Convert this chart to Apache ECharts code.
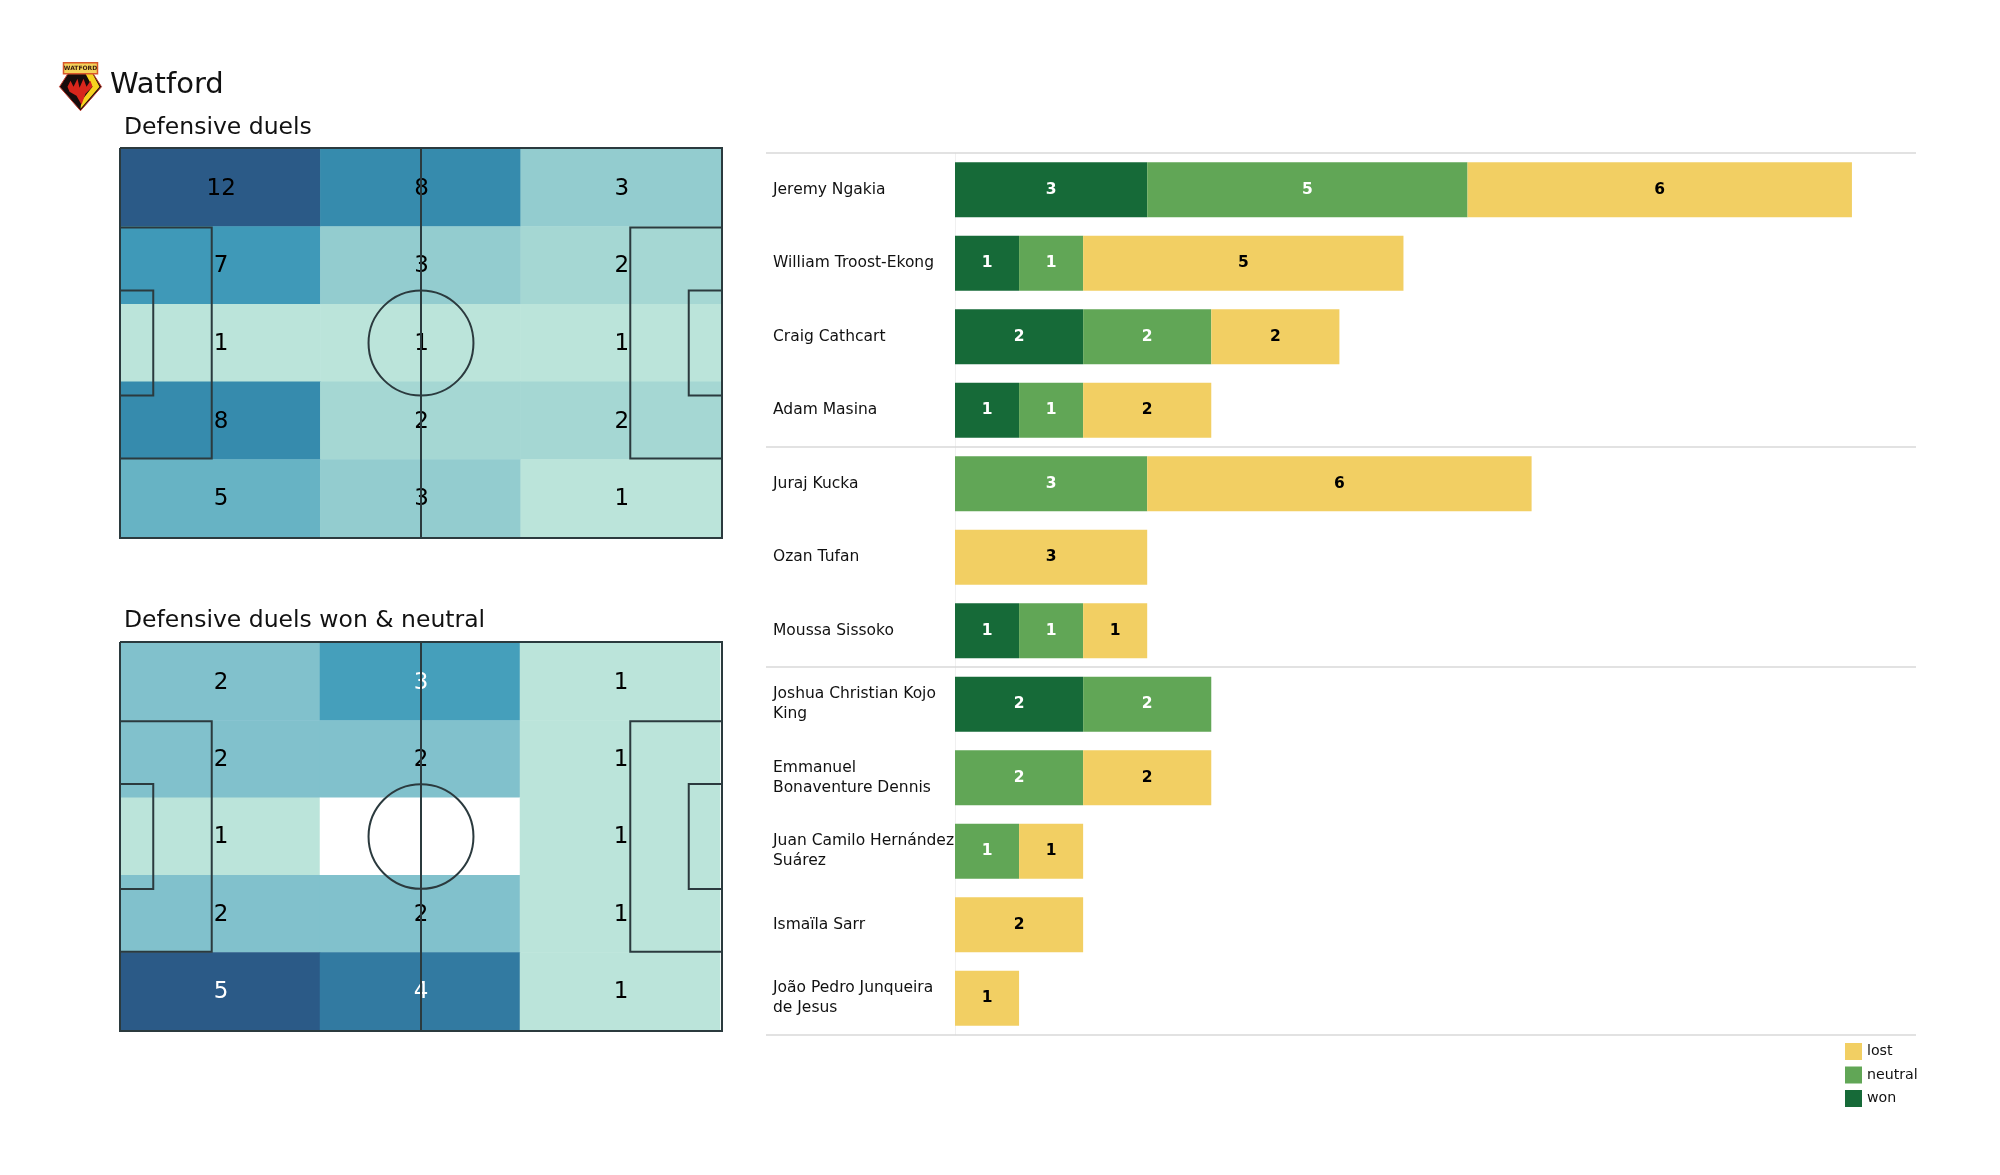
<!DOCTYPE html>
<html><head><meta charset="utf-8">
<script src="https://cdn.jsdelivr.net/npm/echarts@6/dist/echarts.min.js"></script>
<style>html,body{margin:0;padding:0;background:#fff}#c{width:2000px;height:1175px}</style>
</head><body><div id="c"></div>
<script>
const players = ['Jeremy Ngakia','William Troost-Ekong','Craig Cathcart','Adam Masina','Juraj Kucka','Ozan Tufan','Moussa Sissoko','Joshua Christian Kojo\nKing','Emmanuel\nBonaventure Dennis','Juan Camilo Hernández\nSuárez','Ismaïla Sarr','João Pedro Junqueira\nde Jesus'];
const won     = [3,1,2,1,0,0,1,2,0,0,0,0];
const neutral = [5,1,2,1,3,0,1,2,2,1,0,0];
const lost    = [6,5,2,2,6,3,1,0,2,1,2,1];
const groupBreaks = [0,4,7,12];

const zoneCols = ['c1','c2','c3'];
const zoneRows = ['r1','r2','r3','r4','r5'];
const duels = [[12,8,3],[7,3,2],[1,1,1],[8,2,2],[5,3,1]];
const duelsWon = [[2,3,1],[2,2,1],[1,0,1],[2,2,1],[5,4,1]];
const duelColors = {1:'#bbe4da',2:'#a5d7d3',3:'#93cccf',5:'#67b3c4',7:'#3f99b8',8:'#368bad',12:'#2b5a87'};
const wonColors = {0:'#ffffff',1:'#bbe4da',2:'#81c1cc',3:'#459fbb',4:'#327aa1',5:'#2b5a87'};
const wonWhiteFrom = 3;

const pitchW = 105, pitchH = 68;
const pitchPolys = [
  [[0,0],[105,0],[105,68],[0,68],[0,0]],
  [[52.5,0],[52.5,68]],
  [[0,13.84],[16,13.84],[16,54.16],[0,54.16]],
  [[105,13.84],[89,13.84],[89,54.16],[105,54.16]],
  [[0,24.84],[5.8,24.84],[5.8,43.16],[0,43.16]],
  [[105,24.84],[99.2,24.84],[99.2,43.16],[105,43.16]]
];
const circle = {x:52.5,y:34,r:9.15};

const DV = 'DejaVu Sans';
const colW='#166a38', colN='#61a656', colL='#f2cf63';
const heatBoxes = [{left:120,top:149,width:601,height:388},{left:120,top:643,width:600,height:387}];
const lineBoxes = [{left:120,top:148,width:602,height:390},{left:120,top:642,width:602,height:389}];

function flat(m, white){
  const out=[];
  m.forEach((row,r)=>row.forEach((v,c)=>{
    out.push({value:[c,r,v],label:{color:(white!==undefined&&v>=white)?'#fff':'#000'}});
  }));
  return out;
}
function pieces(map){return Object.keys(map).map(k=>({value:+k,color:map[k]}));}
function barSeries(name,vals,color,txt){
  return {name,type:'bar',stack:'d',xAxisIndex:0,yAxisIndex:0,barWidth:55,z:3,
    data:vals.map(v=>v===0?null:v),itemStyle:{color},
    label:{show:true,position:'inside',color:txt,fontFamily:DV,fontWeight:'bold',fontSize:15.5}};
}
function pitchSeries(i){
  const ax=2+i;
  return {type:'custom',xAxisIndex:ax,yAxisIndex:ax,silent:true,z:6,clip:false,
    data:pitchPolys.map((p,k)=>[k]).concat([[-1]]),
    renderItem(params,api){
      const k=api.value(0);
      const st={stroke:'#2b3a3e',lineWidth:2,fill:null};
      if(k<0){
        const c=api.coord([circle.x,circle.y]);
        const e=api.coord([circle.x+circle.r,circle.y+circle.r]);
        return {type:'ellipse',shape:{cx:c[0],cy:c[1],rx:e[0]-c[0],ry:e[1]-c[1]},style:st};
      }
      return {type:'polyline',shape:{points:pitchPolys[k].map(q=>api.coord(q))},style:st};
    }};
}
function heatSeries(i,m,white){
  const ax=4+i;
  return {type:'heatmap',xAxisIndex:ax,yAxisIndex:ax,data:flat(m,white),z:2,
    label:{show:true,fontFamily:DV,fontSize:23,offset:[1,1],formatter:p=>(p.value[2]===0?'':p.value[2])},itemStyle:{borderWidth:0}};
}
const hidden={show:false};
const grids=[
  {left:955,top:153,width:961,height:882},
  {left:766,top:152.5,width:1150,height:882},
  lineBoxes[0],lineBoxes[1],heatBoxes[0],heatBoxes[1]
];
const xAxes=[
  {type:'value',gridIndex:0,min:0,max:15,show:false},
  {type:'value',gridIndex:1,min:0,max:1,show:false},
  {type:'value',gridIndex:2,min:0,max:pitchW,show:false},
  {type:'value',gridIndex:3,min:0,max:pitchW,show:false},
  {type:'category',gridIndex:4,data:zoneCols,show:false},
  {type:'category',gridIndex:5,data:zoneCols,show:false}
];
const yAxes=[
  {type:'category',gridIndex:0,data:players,inverse:true,
    axisLine:{show:true,lineStyle:{color:'#f0f0f0',width:1}},axisTick:hidden,
    axisLabel:{align:'left',margin:182,color:'#111',fontFamily:DV,fontSize:15.5,lineHeight:20,interval:0}},
  {type:'value',gridIndex:1,min:0,max:players.length,inverse:true,show:false},
  {type:'value',gridIndex:2,min:0,max:pitchH,inverse:true,show:false},
  {type:'value',gridIndex:3,min:0,max:pitchH,inverse:true,show:false},
  {type:'category',gridIndex:4,data:zoneRows,inverse:true,show:false},
  {type:'category',gridIndex:5,data:zoneRows,inverse:true,show:false}
];
const titleStyle=s=>({fontFamily:DV,fontWeight:'normal',fontSize:s,color:'#111'});
const option={
  animation:false,backgroundColor:'#fff',
  title:[
    {text:'Watford',left:110,top:71,padding:0,textStyle:titleStyle(29)},
    {text:'Defensive duels',left:124,top:116,padding:0,textStyle:titleStyle(23.5)},
    {text:'Defensive duels won & neutral',left:124,top:609,padding:0,textStyle:titleStyle(23.5)}
  ],
  legend:{orient:'vertical',left:1845,top:1043,itemWidth:17,itemHeight:17,itemGap:6.5,icon:'rect',
    data:['lost','neutral','won'],textStyle:{fontFamily:DV,fontSize:14.2,color:'#111'},padding:0,selectedMode:false},
  grid:grids,xAxis:xAxes,yAxis:yAxes,
  visualMap:[
    {type:'piecewise',show:false,seriesIndex:0,dimension:2,pieces:pieces(duelColors)},
    {type:'piecewise',show:false,seriesIndex:1,dimension:2,pieces:pieces(wonColors)}
  ],
  series:[
    heatSeries(0,duels),
    heatSeries(1,duelsWon,wonWhiteFrom),
    pitchSeries(0),pitchSeries(1),
    barSeries('won',won,colW,'#fff'),
    barSeries('neutral',neutral,colN,'#fff'),
    barSeries('lost',lost,colL,'#000'),
    {type:'line',xAxisIndex:1,yAxisIndex:1,data:[],silent:true,symbol:'none',z:1,
      markLine:{silent:true,symbol:'none',label:{show:false},lineStyle:{color:'#d9d9d9',width:1.5,type:'solid'},
        data:groupBreaks.map(b=>({yAxis:b}))}}
  ],
  graphic:[{type:'group',left:59,top:62,silent:true,children:[
    {type:'polygon',shape:{points:[[0,24],[9,10],[33,10],[42,24],[21,48]]},style:{fill:'#170c0c',stroke:'#c0392b',lineWidth:1}},
    {type:'polygon',shape:{points:[[26,11],[33,11],[40,24],[21,46],[22,38],[33,24]]},style:{fill:'#f6d21f'}},
    {type:'polygon',shape:{points:[[8,24],[11,18],[14,24],[18,16],[20,25],[24,16],[27,24],[31,18],[33,24],[26,31],[22,42],[17,33],[10,29]]},style:{fill:'#d8261c'}},
    {type:'rect',shape:{x:4,y:0,width:34,height:11},style:{fill:'#f4d25a',stroke:'#d9572b',lineWidth:1.5}},
    {type:'text',style:{x:21,y:5.5,text:'WATFORD',align:'center',verticalAlign:'middle',font:'bold 6px "DejaVu Sans"',fill:'#3a1a10'}}
  ]}]
};
const chart=echarts.init(document.getElementById('c'),null,{renderer:'canvas'});
chart.setOption(option);
</script></body></html>
